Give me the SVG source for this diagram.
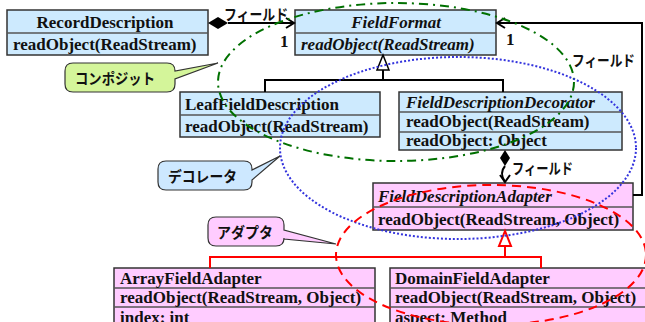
<svg xmlns="http://www.w3.org/2000/svg" width="645" height="322" viewBox="0 0 645 322">
<style>
.box{stroke:#333;stroke-width:1.5}
.blue{fill:#cdeafe}
.pink{fill:#ffccff}
.div{stroke:#555;stroke-width:1.5}
.t{font-family:"Liberation Serif",serif;font-weight:bold;font-size:17px;fill:#111}
.i{font-style:italic}
.j{font-family:"Noto Sans CJK JP",sans-serif;font-weight:bold;font-size:15px;fill:#111}
.ln{stroke:#000;stroke-width:2;fill:none}
.rl{stroke:#f00;stroke-width:2;fill:none}
.call{stroke:#333;stroke-width:1.2}
</style>
<rect width="645" height="322" fill="#fff"/>

<g id="RecordDescription">
<rect class="box blue" x="7" y="10" width="201" height="45"/>
<line class="div" x1="7" y1="33" x2="208" y2="33"/>
<text class="t" x="105" y="28" text-anchor="middle">RecordDescription</text>
<text class="t" x="13" y="50">readObject(ReadStream)</text>
</g>

<g id="FieldFormat">
<rect class="box blue" x="295" y="10" width="201" height="45"/>
<line class="div" x1="295" y1="33" x2="496" y2="33"/>
<text class="t i" x="396" y="28" text-anchor="middle">FieldFormat</text>
<text class="t i" x="301" y="50">readObject(ReadStream)</text>
</g>

<g id="LeafFieldDescription">
<rect class="box blue" x="180" y="92" width="200" height="45"/>
<line class="div" x1="180" y1="115" x2="380" y2="115"/>
<text class="t" x="185" y="110">LeafFieldDescription</text>
<text class="t" x="185" y="132">readObject(ReadStream)</text>
</g>

<g id="FieldDescriptionDecorator">
<rect class="box blue" x="399" y="92" width="223" height="58"/>
<line class="div" x1="399" y1="112" x2="622" y2="112"/>
<line class="div" x1="399" y1="132" x2="622" y2="132"/>
<text class="t i" x="406" y="108">FieldDescriptionDecorator</text>
<text class="t" x="406" y="127">readObject(ReadStream)</text>
<text class="t" x="406" y="146">readObject: Object</text>
</g>

<g id="FieldDescriptionAdapter">
<rect class="box pink" x="373" y="183" width="260" height="47"/>
<line class="div" x1="373" y1="207" x2="633" y2="207"/>
<text class="t i" x="378" y="202">FieldDescriptionAdapter</text>
<text class="t" x="378" y="225">readObject(ReadStream, Object)</text>
</g>

<g id="ArrayFieldAdapter">
<rect class="box pink" x="114" y="268" width="261" height="70"/>
<line class="div" x1="114" y1="288" x2="375" y2="288"/>
<line class="div" x1="114" y1="307" x2="375" y2="307"/>
<text class="t" x="120" y="284">ArrayFieldAdapter</text>
<text class="t" x="120" y="303">readObject(ReadStream, Object)</text>
<text class="t" x="120" y="323">index: int</text>
</g>

<g id="DomainFieldAdapter">
<rect class="box pink" x="390" y="268" width="270" height="70"/>
<line class="div" x1="390" y1="288" x2="660" y2="288"/>
<line class="div" x1="390" y1="307" x2="660" y2="307"/>
<text class="t" x="395" y="284">DomainFieldAdapter</text>
<text class="t" x="395" y="303">readObject(ReadStream, Object)</text>
<text class="t" x="395" y="323">aspect: Method</text>
</g>

<g id="connectors">
<polygon points="208,23 218,17 228,23 218,29" fill="#000"/>
<line class="ln" x1="228" y1="23" x2="294" y2="23"/>
<polyline class="ln" points="286,18 294,23 286,28"/>
<text class="j" x="224" y="20" textLength="64" lengthAdjust="spacingAndGlyphs">フィールド</text>
<text class="t" x="280" y="47">1</text>

<polyline class="ln" points="633,195 642,195 642,23 497,23"/>
<polyline class="ln" points="505,18 497,23 505,28"/>
<text class="t" x="506" y="45">1</text>
<text class="j" x="572" y="66" textLength="63" lengthAdjust="spacingAndGlyphs">フィールド</text>

<line class="ln" x1="383" y1="70" x2="383" y2="80"/>
<polyline class="ln" points="265,92 265,80 503,80 503,92"/>
<polygon points="383,55 377,70 389,70" fill="#fff" stroke="#000" stroke-width="1.5"/>

<polygon points="505,150 510,158 505,166 500,158" fill="#000"/>
<path class="ln" d="M505,166 Q499,173 505,182"/>
<polyline class="ln" points="500,175 505,182 510,175"/>
<text class="j" x="512" y="174" textLength="61" lengthAdjust="spacingAndGlyphs">フィールド</text>

<line class="rl" x1="505" y1="246" x2="505" y2="257"/>
<polyline class="rl" points="210,268 210,257 541,257 541,268"/>
<polygon points="505,231 499,246 511,246" fill="#fff" stroke="#f00" stroke-width="2"/>
</g>

<g id="groups">
<ellipse cx="396" cy="82" rx="178" ry="79" fill="none" stroke="#007000" stroke-width="2" stroke-dasharray="9,5,2,5"/>
<ellipse cx="458" cy="148" rx="178" ry="91" fill="none" stroke="#3333dd" stroke-width="2" stroke-dasharray="2,2"/>
<ellipse cx="491" cy="255" rx="155" ry="70" fill="none" stroke="#f00" stroke-width="2" stroke-dasharray="9,6"/>
</g>

<g id="callout-composite">
<path class="call" fill="#d4f59a" d="M73,63 H167 Q175,63 175,71 L218,63 L175,79 V84 Q175,92 167,92 H73 Q65,92 65,84 V71 Q65,63 73,63 Z"/>
<text class="j" x="75" y="84" textLength="80" lengthAdjust="spacingAndGlyphs">コンポジット</text>
</g>

<g id="callout-decorator">
<path class="call" fill="#cde8ff" d="M166,161 H244 Q252,161 252,169 V170 L280,156 L252,180 V182 Q252,190 244,190 H166 Q158,190 158,182 V169 Q158,161 166,161 Z"/>
<text class="j" x="168" y="182" textLength="69" lengthAdjust="spacingAndGlyphs">デコレータ</text>
</g>

<g id="callout-adapter">
<path class="call" fill="#ffccff" d="M216,217 H276 Q284,217 284,225 V230 L336,244 L284,239 V238 Q284,246 276,246 H216 Q208,246 208,238 V225 Q208,217 216,217 Z"/>
<text class="j" x="217" y="238" textLength="56" lengthAdjust="spacingAndGlyphs">アダプタ</text>
</g>
</svg>
